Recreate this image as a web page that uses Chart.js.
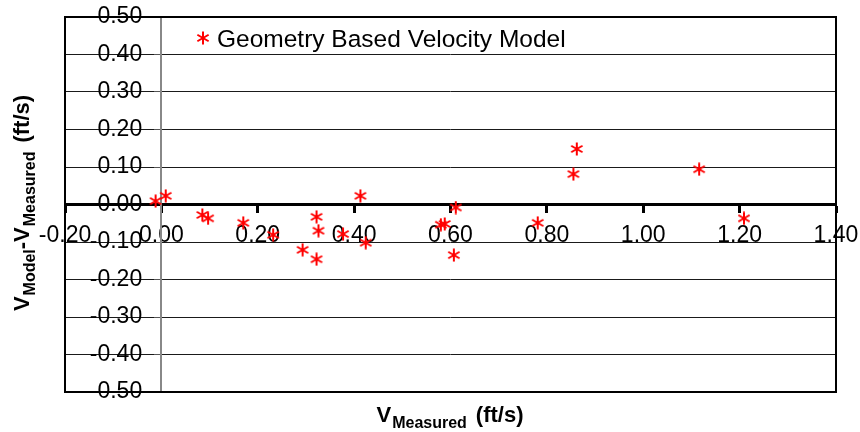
<!DOCTYPE html>
<html>
<head>
<meta charset="utf-8">
<script src="https://cdn.jsdelivr.net/npm/chart.js@4/dist/chart.umd.min.js"></script>
<style>
    html, body { margin: 0; padding: 0; background: #fff; }
</style>
</head>
<body>
<canvas id="chart" width="860" height="432"></canvas>
<script>
// Data
const vMeasured = [-0.012, 0.009, 0.085, 0.097, 0.170, 0.232, 0.293, 0.322, 0.322, 0.326, 0.377,
                   0.413, 0.424, 0.580, 0.588, 0.607, 0.611, 0.781, 0.855, 0.862, 1.116, 1.209];
const vDiff = [0.009, 0.023, -0.028, -0.037, -0.049, -0.081, -0.121, -0.033, -0.146, -0.070, -0.079,
               0.023, -0.102, -0.054, -0.052, -0.135, -0.008, -0.049, 0.081, 0.148, 0.094, -0.037];
const xTicks = [-0.20, 0.00, 0.20, 0.40, 0.60, 0.80, 1.00, 1.20, 1.40];
const yTicks = [-0.50, -0.40, -0.30, -0.20, -0.10, 0.00, 0.10, 0.20, 0.30, 0.40, 0.50];
const seriesLabel = 'Geometry Based Velocity Model';

const FONT = "'Liberation Sans', Arial, sans-serif";

// red asterisk marker (vertical bar + two diagonals)
function makeAsterisk(size, color) {
    const c = document.createElement('canvas');
    c.width = size;
    c.height = size;
    const g = c.getContext('2d');
    const r = size / 2 - 0.5;
    g.strokeStyle = color;
    g.lineWidth = 2;
    g.translate(size / 2, size / 2);
    for (let k = 0; k < 3; k++) {
        const a = Math.PI / 2 + k * Math.PI / 3;
        g.beginPath();
        g.moveTo(Math.cos(a) * r, Math.sin(a) * r);
        g.lineTo(-Math.cos(a) * r, -Math.sin(a) * r);
        g.stroke();
    }
    return c;
}
const marker = makeAsterisk(14, '#ff0000');

// text with subscript parts: [text, isSub, gapBefore]
function drawRich(ctx, parts, big, small) {
    let w = 0;
    parts.forEach(p => {
        ctx.font = `bold ${p[1] ? small : big}px ${FONT}`;
        w += ctx.measureText(p[0]).width + (p[2] || 0);
    });
    let x = -w / 2;
    parts.forEach(p => {
        ctx.font = `bold ${p[1] ? small : big}px ${FONT}`;
        x += p[2] || 0;
        ctx.fillText(p[0], x, p[1] ? 6 : 0);
        x += ctx.measureText(p[0]).width;
    });
}

const decorPlugin = {
    id: 'decor',
    beforeDatasetsDraw(chart) {
        const { ctx, chartArea: a } = chart;
        ctx.save();
        ctx.strokeStyle = '#000';
        ctx.lineWidth = 2;
        ctx.strokeRect(a.left, a.top, a.right - a.left, a.bottom - a.top);
        ctx.restore();
    },
    afterDraw(chart) {
        const { ctx, chartArea: a } = chart;
        ctx.save();
        ctx.fillStyle = '#000';
        ctx.textBaseline = 'alphabetic';

        // legend
        ctx.drawImage(marker, 196, 31);
        ctx.font = `24.5px ${FONT}`;
        ctx.fillText(chart.data.datasets[0].label, 217, 47);

        // x title
        ctx.translate(450, 422);
        drawRich(ctx, [['V', false], ['Measured', true, 1], ['(ft/s)', false, 9]], 22, 16);
        ctx.restore();

        // y title
        ctx.save();
        ctx.fillStyle = '#000';
        ctx.translate(29, 203);
        ctx.rotate(-Math.PI / 2);
        drawRich(ctx, [['V', false], ['Model', true, 1], ['-V', false], ['Measured', true, 1], ['(ft/s)', false, 9]], 22, 16);
        ctx.restore();
    }
};

new Chart(document.getElementById('chart'), {
    type: 'scatter',
    data: {
        datasets: [{
            label: seriesLabel,
            data: vMeasured.map((x, i) => ({ x: x, y: vDiff[i] })),
            pointStyle: marker,
            pointRadius: 7,
            pointHoverRadius: 7
        }]
    },
    options: {
        responsive: false,
        animation: false,
        devicePixelRatio: 1,
        layout: { padding: { left: 65, right: 24, top: 17, bottom: 40 } },
        plugins: {
            legend: { display: false },
            tooltip: { enabled: false }
        },
        scales: {
            x: {
                type: 'linear',
                position: { y: 0 },
                min: -0.2,
                max: 1.4,
                afterBuildTicks: s => { s.ticks = xTicks.map(v => ({ value: v })); },
                // labels may spill past the plot edges, don't let that shrink the plot
                afterFit: s => { s.paddingLeft = 0; s.paddingRight = 0; },
                ticks: {
                    autoSkip: false,
                    maxRotation: 0,
                    padding: 10,
                    color: '#000',
                    font: { family: FONT, size: 23 },
                    callback: v => v.toFixed(2)
                },
                grid: {
                    drawOnChartArea: false,
                    tickLength: 7,
                    tickWidth: 3,
                    tickColor: '#000'
                },
                border: { color: '#000', width: 3 }
            },
            y: {
                type: 'linear',
                position: { x: 0 },
                min: -0.5,
                max: 0.5,
                afterBuildTicks: s => { s.ticks = yTicks.map(v => ({ value: v })); },
                afterFit: s => { s.paddingTop = 0; s.paddingBottom = 0; },
                ticks: {
                    padding: 12,
                    color: '#000',
                    font: { family: FONT, size: 23 },
                    // labels sit right against the axis line here, so pad them with spaces
                    callback: v => v.toFixed(2) + '   '
                },
                grid: {
                    color: '#1a1a1a',
                    lineWidth: 1,
                    tickLength: 6,
                    tickColor: '#555'
                },
                border: { color: '#888', width: 2 }
            }
        }
    },
    plugins: [decorPlugin]
});
</script>
</body>
</html>
